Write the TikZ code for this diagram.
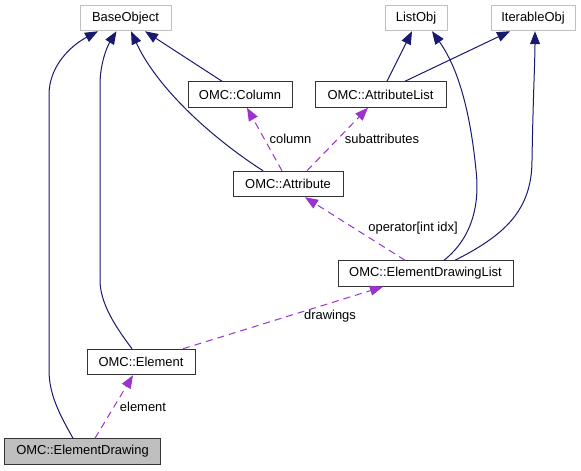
\documentclass[tikz,border=0pt]{standalone}
\usepackage{fontspec}
\setmainfont{Liberation Sans}
\usetikzlibrary{arrows.meta}
\definecolor{edgeblue}{HTML}{191970}
\definecolor{edgepurple}{HTML}{9A32CD}
\definecolor{extgray}{HTML}{BFBFBF}
\definecolor{mainfill}{HTML}{BFBFBF}
\tikzset{
  cls/.style={draw=black!80, line width=1bp, fill=white, minimum height=25.5bp, inner sep=0pt, font=\fontsize{13}{15}\selectfont},
  extcls/.style={cls, draw=extgray},
  inherit/.style={draw=edgeblue, line width=1bp, -{Triangle[length=13bp,width=10bp]}},
  usage/.style={draw=edgepurple, line width=1bp, dash pattern=on 7bp off 5bp, -{Triangle[length=13bp,width=10bp]}},
  lbl/.style={font=\fontsize{13}{15}\selectfont, inner sep=0pt}
}
\begin{document}
\begin{tikzpicture}[x=1bp,y=-1bp]
\useasboundingbox (0,0) rectangle (581,471);
% nodes
\node[extcls, minimum width=91bp] (base) at (125.5,18) {BaseObject};
\node[extcls, minimum width=62bp] (lo) at (416,18) {ListObj};
\node[extcls, minimum width=84bp] (io) at (533,18) {IterableObj};
\node[cls, minimum width=104bp] (col) at (240,94.5) {OMC::Column};
\node[cls, minimum width=131bp] (al) at (380.5,94.5) {OMC::AttributeList};
\node[cls, minimum width=110bp] (at) at (288,184) {OMC::Attribute};
\node[cls, minimum width=175bp] (edl) at (425.5,273.5) {OMC::ElementDrawingList};
\node[cls, minimum width=108bp] (el) at (141,362) {OMC::Element};
\node[cls, minimum width=155bp, fill=mainfill] (ed) at (82.5,451.5) {OMC::ElementDrawing};
% inheritance edges
\draw[inherit] ([xshift=-9.5bp]ed.north) .. controls (60,415) and (49,395) .. (49,370) -- (49,95) .. controls (49,65) and (72,45) .. ([xshift=-27.5bp]base.south);
\draw[inherit] ([xshift=-9bp]el.north) .. controls (118,330) and (100,305) .. (100,280) -- (100,85) .. controls (100,62) and (108,45) .. ([xshift=-9bp]base.south);
\draw[inherit] ([xshift=-25bp]at.north) .. controls (215,140) and (158,90) .. ([xshift=5.5bp]base.south);
\draw[inherit] ([xshift=-18bp]col.north) -- ([xshift=19.5bp]base.south);
\draw[inherit] ([xshift=6.5bp]al.north) -- ([xshift=-4bp]lo.south);
\draw[inherit] ([xshift=24.5bp]al.north) -- ([xshift=-23bp]io.south);
\draw[inherit] ([xshift=18.5bp]edl.north) .. controls (472,238) and (480,205) .. (476,170) .. controls (470,110) and (458,68) .. ([xshift=16bp]lo.south);
\draw[inherit] ([xshift=29.5bp]edl.north) .. controls (505,235) and (532,210) .. (532,160) .. controls (533,100) and (535,60) .. ([xshift=2bp]io.south);
% usage edges
\draw[usage] ([xshift=-6bp]at.north) -- node[lbl, pos=0.5, xshift=26bp] {column} ([xshift=7bp]col.south);
\draw[usage] ([xshift=19bp]at.north) -- ([xshift=-12.5bp]al.south);
\node[lbl] (lsub) at (382,139) {subattributes};
\draw[usage] ([xshift=-20.5bp]edl.north) -- ([xshift=17bp]at.south);
\node[lbl] (lop) at (413,228) {operator[int idx]};
\draw[usage] ([xshift=42bp]el.north) -- ([xshift=-42.5bp]edl.south);
\node[lbl] (ldr) at (330,316) {drawings};
\draw[usage] ([xshift=12.5bp]ed.north) -- ([xshift=-8bp]el.south);
\node[lbl] (lel) at (143,407) {element};
\end{tikzpicture}
\end{document}
